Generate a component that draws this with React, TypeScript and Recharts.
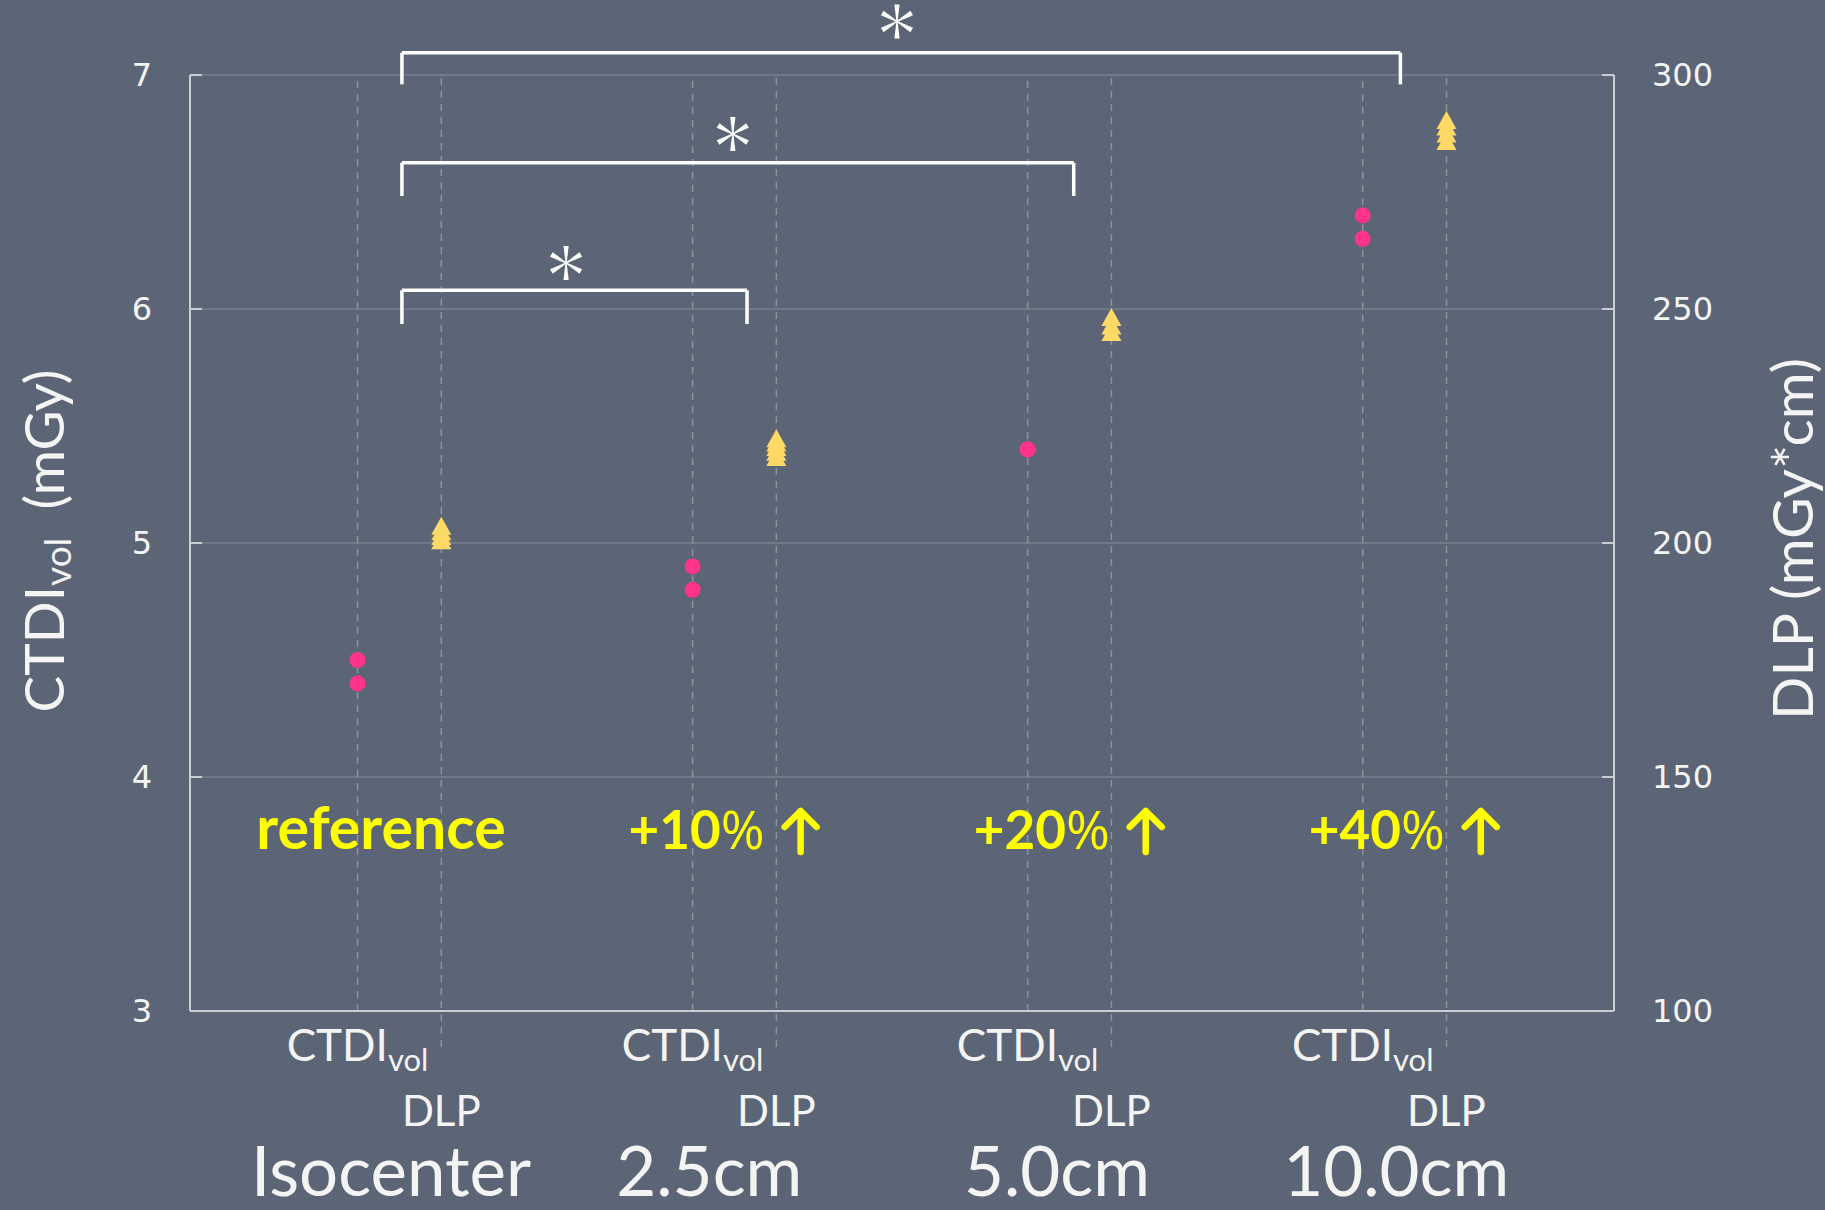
import React from "react";
import {
  CartesianGrid,
  ReferenceDot,
  ReferenceLine,
  Scatter,
  ScatterChart,
  XAxis,
  YAxis,
} from "recharts";

// x slots: CTDIvol and DLP columns for each off-centre position
const ctdiPositions = [2, 6, 10, 14];
const dlpPositions = [3, 7, 11, 15];
const groupNames = ["Isocenter", "2.5cm", "5.0cm", "10.0cm"];
const groupLabelX = [2.4, 6.2, 10.35, 14.4];

// dose change notes; the "reference" note is centred, the others end at x
const referenceLabelX = 2.28;
const changeLabels = ["+10", "+20", "+40"];
const changeLabelEndX = [6.86, 10.98, 14.98];

// measured doses per position
const ctdiValues = [
  [4.5, 4.4],
  [4.9, 4.8],
  [5.4, 5.4],
  [6.4, 6.3],
];
const dlpValues = [
  [200.6, 201.5, 202.5, 203.7],
  [218.4, 219.5, 220.5, 221.5, 222.4],
  [245.1, 246.5, 248.3],
  [285.9, 287.5, 289, 290.4],
];

const ctdiTicks = [3, 4, 5, 6, 7];
const dlpTicks = [100, 150, 200, 250, 300];

// significance brackets, in left-axis units
const bracketFrom = [2.53, 2.53, 2.53];
const bracketTo = [6.65, 10.55, 14.45];
const bracketTop = [6.08, 6.625, 7.095];
const bracketLegBottom = [5.936, 6.483, 6.96];
const asteriskX = [4.49, 6.48, 8.44];
const asteriskY = [6.197, 6.748, 7.229];

const ctdiData = ctdiValues.flatMap((vals, i) =>
  vals.map((y) => ({ x: ctdiPositions[i], y })),
);
const dlpData = dlpValues.flatMap((vals, i) =>
  vals.map((y) => ({ x: dlpPositions[i], y })),
);

const BG = "#5b6576";
const AXIS = "#c9ccd1";
const TEXT = "#f4f4f4";
const NOTE = "#ffff00";
const LABEL_FONT = "Lato, 'Open Sans', sans-serif";
const NUM_FONT = "'DejaVu Sans', Verdana, sans-serif";

function Triangle(props: any) {
  const { cx, cy } = props;
  return (
    <path
      d={`M${cx},${cy - 9} L${cx + 10},${cy + 9} L${cx - 10},${cy + 9} Z`}
      fill="#ffd966"
    />
  );
}

// six-spoke asterisk, spokes widen towards their tips
function Asterisk({ cx, cy }: { cx: number; cy: number }) {
  const len = 17;
  const spokes = [90, 30, 150, 270, 210, 330];
  return (
    <g fill="#ffffff">
      {spokes.map((deg) => {
        const a = (deg * Math.PI) / 180;
        const ux = Math.cos(a);
        const uy = -Math.sin(a);
        const px = -uy;
        const py = ux;
        const tipX = cx + ux * len;
        const tipY = cy + uy * len;
        const pts = [
          [cx + px * 0.6, cy + py * 0.6],
          [tipX + px * 2.6, tipY + py * 2.6],
          [tipX - px * 2.6, tipY - py * 2.6],
          [cx - px * 0.6, cy - py * 0.6],
        ]
          .map((p) => p.join(","))
          .join(" ");
        return <polygon key={deg} points={pts} />;
      })}
    </g>
  );
}

// "+NN%" followed by an up arrow; (cx, cy) is the end of the text on its baseline
function ChangeNote({ cx, cy, value }: { cx: number; cy: number; value: string }) {
  const ax = cx + 36;
  return (
    <g>
      <text
        x={cx}
        y={cy}
        textAnchor="end"
        fill={NOTE}
        fontFamily={LABEL_FONT}
        fontWeight="bold"
        fontSize={53}
      >
        {value}
        <tspan fontWeight="normal" fontFamily="'Open Sans', sans-serif">
          %
        </tspan>
      </text>
      <path
        d={`M${ax},${cy + 3} L${ax},${cy - 38} M${ax - 16},${cy - 22} L${ax},${cy - 38} L${ax + 16},${cy - 22}`}
        fill="none"
        stroke={NOTE}
        strokeWidth={6.5}
        strokeLinecap="round"
        strokeLinejoin="round"
      />
    </g>
  );
}

function PositionTick(props: any) {
  const { x, y, payload } = props;
  if (ctdiPositions.includes(payload.value)) {
    return (
      <text
        x={x}
        y={y + 50}
        textAnchor="middle"
        fill={TEXT}
        fontFamily={LABEL_FONT}
        fontSize={44}
      >
        <tspan>CTDI</tspan>
        <tspan fontSize={31} dy={10}>
          vol
        </tspan>
      </text>
    );
  }
  return (
    <text
      x={x}
      y={y + 115}
      textAnchor="middle"
      fill={TEXT}
      fontFamily={LABEL_FONT}
      fontSize={42}
    >
      DLP
    </text>
  );
}

export default function App() {
  return (
    <div
      style={{
        position: "fixed",
        left: 0,
        top: 0,
        width: 1825,
        height: 1210,
        background: BG,
      }}
    >
      <ScatterChart
        width={1825}
        height={1210}
        margin={{ top: 75, right: 101, bottom: 19, left: 80 }}
      >
        <CartesianGrid
          yAxisId="ctdi"
          vertical={false}
          stroke="#77818f"
          strokeWidth={1.5}
        />
        <XAxis
          type="number"
          dataKey="x"
          domain={[0, 17]}
          ticks={[...ctdiPositions, ...dlpPositions].sort((a, b) => a - b)}
          interval={0}
          tick={<PositionTick />}
          tickLine={false}
          tickSize={0}
          tickMargin={0}
          height={180}
          axisLine={{ stroke: AXIS, strokeWidth: 2 }}
          allowDataOverflow
        />
        <YAxis
          yAxisId="ctdi"
          type="number"
          dataKey="y"
          domain={[3, 7]}
          ticks={ctdiTicks}
          width={110}
          tickSize={-12}
          tickMargin={50}
          axisLine={{ stroke: AXIS, strokeWidth: 2 }}
          tickLine={{ stroke: AXIS, strokeWidth: 2 }}
          tick={{ fill: TEXT, fontSize: 32, fontFamily: NUM_FONT }}
          allowDataOverflow
          label={{
            content: (p: any) => {
              const vb = p.viewBox;
              const cx = vb.x - 37;
              const cy = vb.y + vb.height / 2 - 2;
              return (
                <text
                  x={cx}
                  y={cy}
                  transform={`rotate(-90, ${cx}, ${cy})`}
                  textAnchor="middle"
                  dominantBaseline="central"
                  fill={TEXT}
                  fontFamily={LABEL_FONT}
                  fontSize={55}
                >
                  <tspan>CTDI</tspan>
                  <tspan fontSize={37} dy={13}>
                    vol
                  </tspan>
                  <tspan dy={-13}>{"\u00a0 (mGy)"}</tspan>
                </text>
              );
            },
          }}
        />
        <YAxis
          yAxisId="dlp"
          orientation="right"
          type="number"
          dataKey="y"
          domain={[100, 300]}
          ticks={dlpTicks}
          width={110}
          tickSize={-12}
          tickMargin={50}
          axisLine={{ stroke: AXIS, strokeWidth: 2 }}
          tickLine={{ stroke: AXIS, strokeWidth: 2 }}
          tick={{ fill: TEXT, fontSize: 32, fontFamily: NUM_FONT }}
          allowDataOverflow
          label={{
            content: (p: any) => {
              const vb = p.viewBox;
              const cx = vb.x + 177;
              const cy = vb.y + vb.height / 2 - 4;
              return (
                <text
                  x={cx}
                  y={cy}
                  transform={`rotate(-90, ${cx}, ${cy})`}
                  textAnchor="middle"
                  dominantBaseline="central"
                  fill={TEXT}
                  fontFamily={LABEL_FONT}
                  fontSize={57}
                >
                  DLP (mGy*cm)
                </text>
              );
            },
          }}
        />

        {ctdiPositions.map((x) => (
          <ReferenceLine
            key={`c${x}`}
            yAxisId="ctdi"
            segment={[
              { x, y: 3 },
              { x, y: 7 },
            ]}
            stroke="#8e939b"
            strokeWidth={1.5}
            strokeDasharray="7 6"
          />
        ))}
        {dlpPositions.map((x) => (
          <ReferenceLine
            key={`d${x}`}
            yAxisId="ctdi"
            ifOverflow="visible"
            segment={[
              { x, y: 2.846 },
              { x, y: 7 },
            ]}
            stroke="#8e939b"
            strokeWidth={1.5}
            strokeDasharray="7 6"
          />
        ))}

        <Scatter
          yAxisId="ctdi"
          data={ctdiData}
          fill="#ff3388"
          isAnimationActive={false}
          shape={(p: any) => <circle cx={p.cx} cy={p.cy} r={8} fill="#ff3388" />}
        />
        <Scatter
          yAxisId="dlp"
          data={dlpData}
          fill="#ffd966"
          isAnimationActive={false}
          shape={<Triangle />}
        />

        {bracketTo.map((to, i) => (
          <React.Fragment key={`b${i}`}>
            <ReferenceLine
              yAxisId="ctdi"
              ifOverflow="visible"
              segment={[
                { x: bracketFrom[i], y: bracketLegBottom[i] },
                { x: bracketFrom[i], y: bracketTop[i] },
              ]}
              stroke="#ffffff"
              strokeWidth={3.5}
            />
            <ReferenceLine
              yAxisId="ctdi"
              ifOverflow="visible"
              segment={[
                { x: bracketFrom[i], y: bracketTop[i] },
                { x: to, y: bracketTop[i] },
              ]}
              stroke="#ffffff"
              strokeWidth={3.5}
            />
            <ReferenceLine
              yAxisId="ctdi"
              ifOverflow="visible"
              segment={[
                { x: to, y: bracketTop[i] },
                { x: to, y: bracketLegBottom[i] },
              ]}
              stroke="#ffffff"
              strokeWidth={3.5}
            />
            <ReferenceDot
              yAxisId="ctdi"
              x={asteriskX[i]}
              y={asteriskY[i]}
              ifOverflow="visible"
              shape={(p: any) => <Asterisk cx={p.cx} cy={p.cy} />}
            />
          </React.Fragment>
        ))}

        <ReferenceDot
          yAxisId="ctdi"
          x={referenceLabelX}
          y={3.692}
          ifOverflow="visible"
          shape={(p: any) => (
            <text
              x={p.cx}
              y={p.cy}
              textAnchor="middle"
              fill={NOTE}
              fontFamily={LABEL_FONT}
              fontWeight="bold"
              fontSize={59}
            >
              reference
            </text>
          )}
        />
        {changeLabels.map((value, i) => (
          <ReferenceDot
            key={`l${i}`}
            yAxisId="ctdi"
            x={changeLabelEndX[i]}
            y={3.692}
            ifOverflow="visible"
            shape={(p: any) => <ChangeNote cx={p.cx} cy={p.cy} value={value} />}
          />
        ))}

        {groupNames.map((name, i) => (
          <ReferenceDot
            key={`g${i}`}
            yAxisId="ctdi"
            x={groupLabelX[i]}
            y={2.21}
            ifOverflow="visible"
            shape={(p: any) => (
              <text
                x={p.cx}
                y={p.cy}
                textAnchor="middle"
                fill={TEXT}
                fontFamily={LABEL_FONT}
                fontSize={69}
              >
                {name}
              </text>
            )}
          />
        ))}
      </ScatterChart>
    </div>
  );
}
